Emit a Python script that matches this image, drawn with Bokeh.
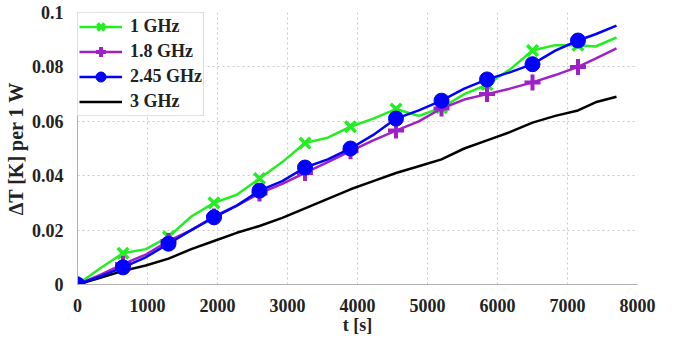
from bokeh.plotting import figure
from bokeh.models import (Range1d, FixedTicker, CustomJSTickFormatter, Legend, LegendItem)
from bokeh.embed import file_html
from bokeh.resources import INLINE

# time axis (s), sampled every 325 s, last sample at the end of the run
t = [0, 325, 650, 975, 1300, 1625, 1950, 2275, 2600, 2925, 3250, 3575, 3900,
     4225, 4550, 4875, 5200, 5525, 5850, 6175, 6500, 6825, 7150, 7400, 7700]

# temperature rise per 1 W of input power
dT_1ghz = [0, 0.006, 0.0115, 0.013, 0.0175, 0.025, 0.030, 0.033, 0.039, 0.045, 0.052,
           0.054, 0.058, 0.061, 0.0645, 0.062, 0.065, 0.070, 0.0735, 0.079, 0.086,
           0.088, 0.088, 0.0875, 0.0908]
dT_18ghz = [0, 0.0035, 0.0075, 0.011, 0.016, 0.020, 0.025, 0.029, 0.0335, 0.037, 0.041,
            0.045, 0.049, 0.053, 0.0566, 0.060, 0.0647, 0.068, 0.070, 0.072, 0.0743,
            0.077, 0.080, 0.083, 0.0868]
dT_245ghz = [0, 0.003, 0.0063, 0.010, 0.015, 0.020, 0.0247, 0.029, 0.0345, 0.038, 0.043,
             0.046, 0.050, 0.055, 0.061, 0.064, 0.0676, 0.072, 0.0754, 0.078, 0.081,
             0.086, 0.0897, 0.092, 0.0952]
dT_3ghz = [0, 0.0025, 0.005, 0.007, 0.0095, 0.013, 0.016, 0.019, 0.0215, 0.0245, 0.028,
           0.0315, 0.035, 0.038, 0.041, 0.0435, 0.046, 0.050, 0.053, 0.056, 0.0595,
           0.062, 0.064, 0.067, 0.069]

labels = ["1 GHz", "1.8 GHz", "2.45 GHz", "3 GHz"]
x_ticks = [0, 1000, 2000, 3000, 4000, 5000, 6000, 7000, 8000]
y_ticks = [0, 0.02, 0.04, 0.06, 0.08, 0.1]

# markers on every second sample, up to 7150 s
mk = list(range(0, 23, 2))

FONT = "Liberation Serif"

p = figure(width=673, height=339, output_backend="svg", toolbar_location=None,
           x_range=Range1d(0, 8000), y_range=Range1d(0, 0.1),
           min_border_left=77, min_border_right=36, min_border_top=12, min_border_bottom=55)
p.outline_line_color = None
p.background_fill_color = "white"

for ax in (p.xaxis[0], p.yaxis[0]):
    ax.axis_line_color = "#b0b0b0"
    ax.axis_line_width = 1
    ax.major_tick_line_color = None
    ax.minor_tick_line_color = None
    ax.major_label_text_font = FONT
    ax.major_label_text_font_style = "bold"
    ax.major_label_text_font_size = "18px"
    ax.major_label_text_color = "#222222"
    ax.axis_label_text_font = FONT
    ax.axis_label_text_font_style = "bold"
    ax.axis_label_text_color = "#222222"

p.xaxis.ticker = FixedTicker(ticks=x_ticks)
p.yaxis.ticker = FixedTicker(ticks=y_ticks)
p.yaxis.formatter = CustomJSTickFormatter(code="return Number(tick.toFixed(2)).toString();")
p.xaxis.major_label_standoff = 8
p.yaxis.major_label_standoff = 8
p.xaxis.axis_label = "t [s]"
p.yaxis.axis_label = "ΔT [K] per 1 W"
p.xaxis.axis_label_text_font_size = "18px"
p.yaxis.axis_label_text_font_size = "20px"
p.xaxis.axis_label_standoff = 0
p.yaxis.axis_label_standoff = 2

for g in (p.xgrid[0], p.ygrid[0]):
    g.grid_line_color = "#c8c8c8"
    g.grid_line_dash = "2 3"
    g.grid_line_width = 1

GREEN = "#22ee22"
PURPLE = "#a020c8"
BLUE = "#0000ff"
BLACK = "#000000"

l3 = p.line(t, dT_3ghz, color=BLACK, line_width=2.5)

l1 = p.line(t, dT_1ghz, color=GREEN, line_width=2.5)
m1 = p.scatter([t[i] for i in mk], [dT_1ghz[i] for i in mk], marker="x",
               size=15, line_color=GREEN, line_width=3.5)

l2 = p.line(t, dT_18ghz, color=PURPLE, line_width=2.5)
m2 = p.scatter([t[i] for i in mk], [dT_18ghz[i] for i in mk], marker="cross",
               size=16, line_color=PURPLE, line_width=4)

l4 = p.line(t, dT_245ghz, color=BLUE, line_width=2.5)
m4 = p.scatter([t[i] for i in mk], [dT_245ghz[i] for i in mk], marker="circle",
               size=15, fill_color=BLUE, line_color=BLUE)

legend = Legend(items=[
    LegendItem(label=labels[0], renderers=[l1, m1]),
    LegendItem(label=labels[1], renderers=[l2, m2]),
    LegendItem(label=labels[2], renderers=[l4, m4]),
    LegendItem(label=labels[3], renderers=[l3]),
], location="top_left")
legend.margin = 0
legend.padding = 1
legend.spacing = 0
legend.glyph_width = 43
legend.glyph_height = 25
legend.label_height = 25
legend.label_standoff = 8
legend.label_text_font = FONT
legend.label_text_font_style = "bold"
legend.label_text_font_size = "18px"
legend.label_text_color = "#222222"
legend.border_line_color = "#c0c0c0"
legend.border_line_width = 1
legend.background_fill_alpha = 1.0
p.add_layout(legend)

open("out.html", "w").write(file_html(p, INLINE))
